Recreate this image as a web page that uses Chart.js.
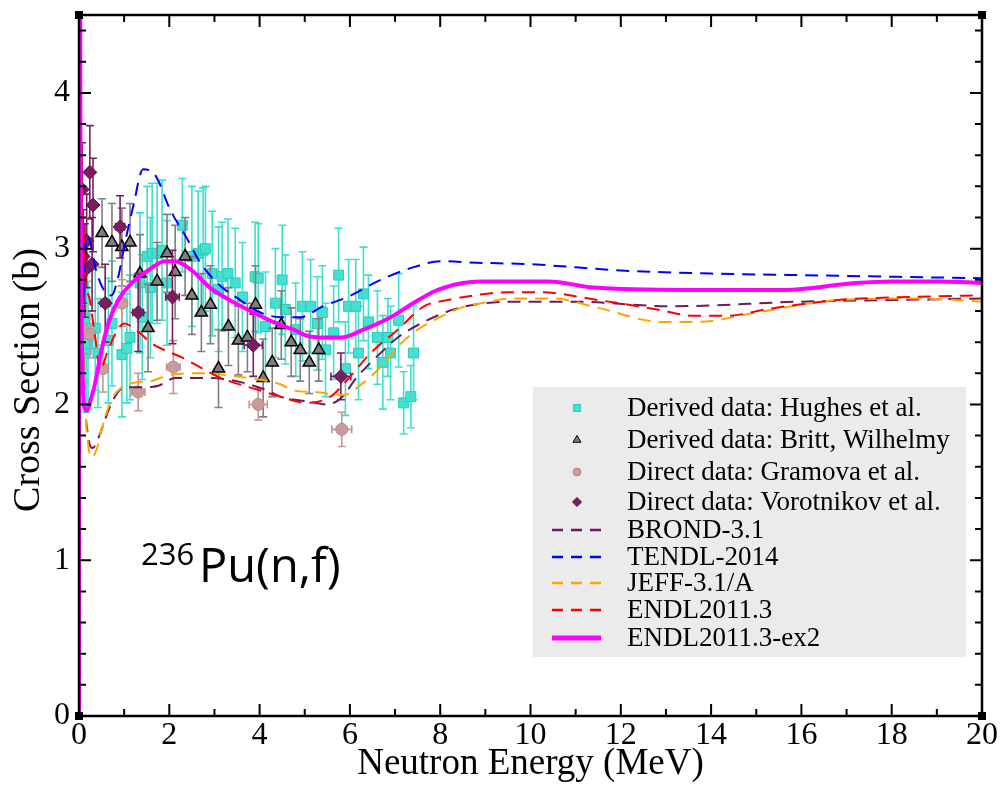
<!DOCTYPE html>
<html>
<head>
<meta charset="utf-8">
<script src="https://cdn.jsdelivr.net/npm/chart.js@4.4.1/dist/chart.umd.min.js"></script>
<style>
    html, body { margin: 0; padding: 0; background: #ffffff; }
    #canvas { display: block; }
</style>
</head>
<body>
<canvas id="canvas" width="1001" height="789"></canvas>
<script>
// evaluated curves (energy in MeV, cross section in b)
const brondE = [0.01, 0.05, 0.12, 0.2, 0.3, 0.45, 0.65, 0.84, 1.02, 1.4, 1.76, 2.13, 2.64, 3.29, 4.17, 4.46, 5.06, 5.5, 5.8, 6.17, 6.68, 7.06, 7.64, 8.3, 8.75, 9.6, 11, 13.1, 16, 18, 20]
const brondXS = [4.6, 3.0, 2.1, 1.8, 1.72, 1.8, 1.96, 2.07, 2.11, 2.11, 2.12, 2.17, 2.17, 2.16, 2.09, 2.05, 2.02, 2.0, 2.04, 2.18, 2.33, 2.43, 2.53, 2.61, 2.64, 2.66, 2.66, 2.63, 2.66, 2.67, 2.68]

const tendlE = [0.01, 0.04, 0.09, 0.17, 0.24, 0.36, 0.58, 0.72, 0.87, 1.02, 1.2, 1.42, 1.69, 2.02, 2.4, 2.69, 3.06, 3.57, 4.02, 4.46, 4.9, 5.4, 5.95, 6.68, 7.4, 8.0, 8.8, 10, 12, 14, 16, 18, 20]
const tendlXS = [4.6, 2.5, 2.67, 3.08, 3.05, 2.88, 2.72, 2.7, 2.82, 3.04, 3.27, 3.51, 3.47, 3.25, 3.06, 2.91, 2.78, 2.67, 2.59, 2.56, 2.56, 2.63, 2.69, 2.8, 2.88, 2.92, 2.91, 2.9, 2.86, 2.84, 2.83, 2.82, 2.81]

const jeffE = [0.01, 0.05, 0.12, 0.2, 0.28, 0.4, 0.5, 0.72, 0.95, 1.24, 1.6, 2.02, 2.69, 3.73, 4.46, 4.75, 5.2, 5.86, 6.3, 6.68, 7.06, 7.4, 7.86, 8.46, 8.9, 9.6, 10.5, 11.5, 12.9, 13.7, 15, 16.8, 18.5, 20]
const jeffXS = [4.6, 3.0, 2.1, 1.75, 1.66, 1.72, 1.84, 2.03, 2.11, 2.14, 2.15, 2.19, 2.2, 2.17, 2.13, 2.09, 2.08, 2.06, 2.14, 2.24, 2.37, 2.46, 2.54, 2.62, 2.65, 2.68, 2.68, 2.62, 2.53, 2.53, 2.59, 2.67, 2.68, 2.66]

const endlE = [0.01, 0.05, 0.09, 0.13, 0.24, 0.36, 0.47, 0.62, 0.8, 1.0, 1.3, 1.62, 2.29, 2.8, 3.06, 4.0, 4.46, 5.06, 5.57, 5.95, 6.46, 7.06, 7.64, 8.17, 8.75, 9.5, 10.2, 11.5, 12.8, 13.6, 14.4, 15.2, 16.8, 18.4, 20]
const endlXS = [4.6, 3.5, 3.2, 2.86, 2.67, 2.43, 2.22, 2.33, 2.45, 2.52, 2.47, 2.39, 2.3, 2.22, 2.18, 2.09, 2.05, 2.01, 2.05, 2.16, 2.33, 2.48, 2.63, 2.67, 2.7, 2.72, 2.72, 2.67, 2.61, 2.57, 2.57, 2.61, 2.67, 2.69, 2.7]

const ex2E = [0, 0.004, 0.03, 0.07, 0.13, 0.18, 0.24, 0.36, 0.5, 0.65, 0.87, 1.17, 1.53, 1.9, 2.13, 2.5, 2.9, 3.4, 3.86, 4.3, 4.75, 5.06, 5.4, 5.8, 6.3, 6.9, 7.4, 7.9, 8.5, 8.9, 9.3, 10.4, 11.4, 13.5, 15.6, 17.2, 18, 19, 20]
const ex2XS = [0, 9, 4.0, 2.3, 1.97, 1.96, 2.01, 2.14, 2.35, 2.52, 2.67, 2.78, 2.86, 2.92, 2.92, 2.86, 2.75, 2.66, 2.59, 2.53, 2.48, 2.44, 2.43, 2.43, 2.48, 2.56, 2.65, 2.73, 2.78, 2.79, 2.79, 2.79, 2.75, 2.735, 2.735, 2.78, 2.79, 2.79, 2.78]

// measured data
const hughesE = [0.07, 0.12, 0.16, 0.2, 0.36, 0.42, 0.65, 0.73, 0.95, 1.06, 1.13, 1.35, 1.4, 1.51, 1.58, 1.62, 1.73, 1.84, 1.95, 2.29, 2.5, 2.64, 2.75, 2.8, 2.95, 3.09, 3.17, 3.3, 3.46, 3.62, 3.9, 3.97, 4.13, 4.35, 4.5, 4.57, 4.8, 4.95, 5.13, 5.28, 5.39, 5.46, 5.64, 5.75, 5.9, 5.97, 6.13, 6.19, 6.3, 6.41, 6.61, 6.73, 6.84, 6.9, 7.08, 7.19, 7.35, 7.41]
const hughesXS = [2.95, 2.55, 2.35, 2.39, 2.49, 2.33, 2.41, 2.52, 2.32, 2.36, 2.43, 2.78, 2.56, 2.95, 2.75, 2.97, 2.97, 2.99, 2.78, 3.15, 2.95, 2.97, 2.99, 3.0, 2.84, 2.74, 2.82, 2.84, 2.78, 2.69, 2.82, 2.81, 2.5, 2.65, 2.8, 2.61, 2.48, 2.63, 2.63, 2.52, 2.59, 2.35, 2.46, 2.83, 2.23, 2.63, 2.63, 2.33, 2.71, 2.53, 2.43, 2.27, 2.43, 2.33, 2.54, 2.01, 2.05, 2.33]
const hughesErr = [0.45, 0.4, 0.4, 0.4, 0.4, 0.35, 0.4, 0.4, 0.4, 0.35, 0.4, 0.45, 0.4, 0.45, 0.45, 0.45, 0.45, 0.45, 0.4, 0.3, 0.45, 0.4, 0.4, 0.4, 0.4, 0.4, 0.35, 0.35, 0.35, 0.35, 0.35, 0.35, 0.35, 0.35, 0.35, 0.35, 0.3, 0.35, 0.3, 0.3, 0.3, 0.3, 0.3, 0.3, 0.3, 0.3, 0.3, 0.3, 0.3, 0.3, 0.3, 0.3, 0.25, 0.3, 0.3, 0.2, 0.2, 0.3]

const brittE = [0.51, 0.73, 0.95, 1.13, 1.35, 1.53, 1.73, 1.95, 2.13, 2.35, 2.5, 2.71, 2.91, 3.09, 3.31, 3.53, 3.73, 3.91, 4.08, 4.28, 4.48, 4.7, 4.9, 5.1, 5.31]
const brittXS = [3.1, 3.04, 3.01, 3.04, 2.84, 2.49, 2.79, 2.97, 2.85, 2.95, 2.7, 2.59, 2.64, 2.23, 2.5, 2.41, 2.43, 2.64, 2.17, 2.27, 2.51, 2.4, 2.35, 2.27, 2.35]
const brittErr = [0.22, 0.25, 0.25, 0.25, 0.25, 0.28, 0.25, 0.25, 0.3, 0.25, 0.25, 0.25, 0.25, 0.25, 0.25, 0.22, 0.22, 0.25, 0.25, 0.22, 0.22, 0.22, 0.2, 0.2, 0.2]

const gramE = [0.09, 0.24, 0.53, 0.95, 1.31, 2.09, 3.97, 5.82]
const gramXS = [2.48, 2.45, 2.23, 2.65, 2.08, 2.24, 2.0, 1.84]
const gramErrY = [0.15, 0.15, 0.15, 0.15, 0.12, 0.17, 0.1, 0.11]
const gramErrX = [0.05, 0.08, 0.1, 0.12, 0.15, 0.15, 0.2, 0.22]

const voroE = [0.07, 0.09, 0.13, 0.17, 0.24, 0.29, 0.31, 0.58, 0.91, 1.31, 2.07, 3.86, 5.8]
const voroXS = [3.38, 2.95, 2.86, 3.05, 3.49, 2.9, 3.28, 2.65, 3.14, 2.59, 2.69, 2.38, 2.18]
const voroErrY = [0.3, 0.3, 0.3, 0.3, 0.3, 0.3, 0.3, 0.25, 0.2, 0.25, 0.3, 0.2, 0.15]
const voroErrX = [0.03, 0.03, 0.04, 0.05, 0.05, 0.06, 0.06, 0.1, 0.1, 0.12, 0.15, 0.2, 0.22]

const xTicks = [0, 2, 4, 6, 8, 10, 12, 14, 16, 18, 20]
const yTicks = [0, 1, 2, 3, 4]

var pts = (xs, ys) => xs.map((x, i) => ({x: x, y: ys[i]}))

var curve = (label, xs, ys, color, width, dash) => ({
    label: label,
    data: pts(xs, ys),
    showLine: true,
    borderColor: color,
    backgroundColor: color,
    borderWidth: width,
    borderDash: dash,
    pointRadius: 0,
    cubicInterpolationMode: 'monotone',
    isCurve: true
})

const DASH = [13, 8]

// curves first so they are drawn on top of the data
var datasets = [
    curve('ENDL2011.3-ex2', ex2E, ex2XS, '#ff00ff', 4, []),
    curve('ENDL2011.3', endlE, endlXS, '#ff0000', 2, DASH),
    curve('JEFF-3.1/A', jeffE, jeffXS, '#ffa500', 2, DASH),
    curve('TENDL-2014', tendlE, tendlXS, '#0000ff', 2, DASH),
    curve('BROND-3.1', brondE, brondXS, '#6e1a5c', 2, DASH),
    {
        label: 'Direct data: Vorotnikov et al.',
        data: pts(voroE, voroXS),
        errY: voroErrY, errX: voroErrX, errColor: '#7a1e62',
        pointStyle: 'rectRot', pointRadius: 7,
        backgroundColor: '#7a1e62', borderColor: '#5e0f4a', borderWidth: 1
    },
    {
        label: 'Direct data: Gramova et al.',
        data: pts(gramE, gramXS),
        errY: gramErrY, errX: gramErrX, errColor: '#c49494',
        pointStyle: 'circle', pointRadius: 6,
        backgroundColor: '#c99c9c', borderColor: '#b88888', borderWidth: 1
    },
    {
        label: 'Derived data: Britt, Wilhelmy',
        data: pts(brittE, brittXS),
        errY: brittErr, errColor: '#7f7f7f',
        pointStyle: 'triangle', pointRadius: 7,
        backgroundColor: '#7f7f7f', borderColor: '#000000', borderWidth: 1.5
    },
    {
        label: 'Derived data: Hughes et al.',
        data: pts(hughesE, hughesXS),
        errY: hughesErr, errColor: '#3ee0d0',
        pointStyle: 'rect', pointRadius: 7,
        backgroundColor: '#45e0d0', borderColor: '#2ccabb', borderWidth: 1
    }
]

const errorBars = {
    id: 'errorBars',
    beforeDatasetDraw: (chart, args) => {
        const ds = chart.data.datasets[args.index]
        if (!ds.errY) return
        const {ctx, chartArea: a} = chart
        const xs = chart.scales.x, ys = chart.scales.y
        ctx.save()
        ctx.beginPath()
        ctx.rect(a.left, a.top, a.right - a.left, a.bottom - a.top)
        ctx.clip()
        ctx.strokeStyle = ds.errColor
        ctx.lineWidth = 1.6
        ctx.beginPath()
        ds.data.forEach((p, i) => {
            const px = xs.getPixelForValue(p.x)
            const py = ys.getPixelForValue(p.y)
            const t = ys.getPixelForValue(p.y + ds.errY[i])
            const b = ys.getPixelForValue(p.y - ds.errY[i])
            ctx.moveTo(px, t); ctx.lineTo(px, b)
            ctx.moveTo(px - 4, t); ctx.lineTo(px + 4, t)
            ctx.moveTo(px - 4, b); ctx.lineTo(px + 4, b)
            if (ds.errX) {
                const l = xs.getPixelForValue(p.x - ds.errX[i])
                const r = xs.getPixelForValue(p.x + ds.errX[i])
                ctx.moveTo(l, py); ctx.lineTo(r, py)
                ctx.moveTo(l, py - 4); ctx.lineTo(l, py + 4)
                ctx.moveTo(r, py - 4); ctx.lineTo(r, py + 4)
            }
        })
        ctx.stroke()
        ctx.restore()
    }
}

// frame with inward ticks on all four sides, y title, legend box and the reaction label
const decorations = {
    id: 'decorations',
    afterDraw: (chart) => {
        const {ctx, chartArea: a} = chart
        const xs = chart.scales.x, ys = chart.scales.y
        ctx.save()
        ctx.strokeStyle = '#000'
        ctx.lineWidth = 2.5
        ctx.strokeRect(a.left, a.top, a.right - a.left, a.bottom - a.top)

        ctx.lineWidth = 2
        ctx.beginPath()
        for (let v = 0; v <= 20; v += 1) {
            const px = xs.getPixelForValue(v)
            const len = v % 2 === 0 ? 12 : 7
            ctx.moveTo(px, a.bottom); ctx.lineTo(px, a.bottom - len)
            ctx.moveTo(px, a.top); ctx.lineTo(px, a.top + len)
        }
        for (let k = 0; k <= 22; k++) {
            const v = k * 0.2
            const py = ys.getPixelForValue(v)
            const len = k % 5 === 0 ? 12 : 7
            ctx.moveTo(a.left, py); ctx.lineTo(a.left + len, py)
            ctx.moveTo(a.right, py); ctx.lineTo(a.right - len, py)
        }
        ctx.stroke()

        ctx.fillStyle = '#000'
        ;[[a.left, a.top], [a.right, a.top], [a.left, a.bottom], [a.right, a.bottom]].forEach(c => {
            ctx.fillRect(c[0] - 4, c[1] - 4, 8, 8)
        })

        // y axis title
        ctx.save()
        ctx.translate(29, 380)
        ctx.rotate(-Math.PI / 2)
        ctx.font = '38px "Liberation Serif"'
        ctx.textAlign = 'center'
        ctx.textBaseline = 'middle'
        ctx.fillText('Cross Section (b)', 0, 0)
        ctx.restore()

        // legend
        ctx.fillStyle = '#ebebeb'
        ctx.fillRect(533, 387, 433, 270)
        const order = ['Derived data: Hughes et al.', 'Derived data: Britt, Wilhelmy', 'Direct data: Gramova et al.',
            'Direct data: Vorotnikov et al.', 'BROND-3.1', 'TENDL-2014', 'JEFF-3.1/A', 'ENDL2011.3', 'ENDL2011.3-ex2']
        const rows = [408, 440, 472, 502, 530, 557, 583, 610, 638]
        ctx.font = '27px "Liberation Serif"'
        ctx.textBaseline = 'middle'
        ctx.textAlign = 'left'
        order.forEach((name, i) => {
            const ds = chart.data.datasets.find(d => d.label === name)
            const yy = rows[i]
            if (ds.isCurve) {
                ctx.save()
                ctx.strokeStyle = ds.borderColor
                ctx.lineWidth = ds.borderWidth === 4 ? 5 : 2.5
                ctx.setLineDash(ds.borderDash.length ? [11, 8] : [])
                ctx.beginPath()
                ctx.moveTo(552, yy); ctx.lineTo(601, yy)
                ctx.stroke()
                ctx.restore()
            } else {
                ctx.save()
                ctx.fillStyle = ds.backgroundColor
                ctx.strokeStyle = ds.borderColor
                ctx.lineWidth = 1
                Chart.helpers.drawPoint(ctx, {pointStyle: ds.pointStyle, radius: ds.pointStyle === 'rect' ? 5 : ds.pointRadius * 0.65, borderWidth: 1, rotation: 0}, 577, yy)
                ctx.restore()
            }
            ctx.fillStyle = '#000'
            ctx.fillText(name, 627, yy + 1)
        })

        // reaction label
        ctx.textBaseline = 'alphabetic'
        ctx.font = '31px "Open Sans"'
        ctx.fillText('236', 141, 565)
        ctx.font = '47px "Open Sans"'
        ctx.fillText('Pu(n,f)', 199, 582)
        ctx.restore()
    }
}

var canvas = document.getElementById('canvas')

var chart = new Chart(canvas, {
    type: 'scatter',
    data: { datasets: datasets },
    options: {
        responsive: false,
        animation: false,
        devicePixelRatio: 1,
        layout: { padding: { top: 15, right: 19, left: 0, bottom: 0 } },
        plugins: {
            legend: { display: false },
            tooltip: { enabled: false }
        },
        scales: {
            x: {
                type: 'linear',
                min: 0,
                max: 20,
                afterFit: (s) => { s.height = 73; s.paddingLeft = 0; s.paddingRight = 0 },
                afterBuildTicks: (s) => { s.ticks = xTicks.map(v => ({value: v})) },
                grid: { display: false, drawTicks: false },
                border: { display: false },
                ticks: { padding: 4, color: '#000', maxRotation: 0, font: { family: 'Liberation Serif', size: 32, lineHeight: 1 } },
                title: {
                    display: true,
                    text: 'Neutron Energy (MeV)',
                    color: '#000',
                    font: { family: 'Liberation Serif', size: 37, lineHeight: 1 },
                    padding: { top: 0, bottom: 6 }
                }
            },
            y: {
                type: 'linear',
                min: 0,
                max: 4.5,
                afterFit: (s) => { s.width = 79; s.paddingTop = 0; s.paddingBottom = 0 },
                afterBuildTicks: (s) => { s.ticks = yTicks.map(v => ({value: v})) },
                grid: { display: false, drawTicks: false },
                border: { display: false },
                ticks: { padding: 9, color: '#000', font: { family: 'Liberation Serif', size: 32, lineHeight: 1 } }
            }
        }
    },
    plugins: [errorBars, decorations]
})
</script>
</body>
</html>
